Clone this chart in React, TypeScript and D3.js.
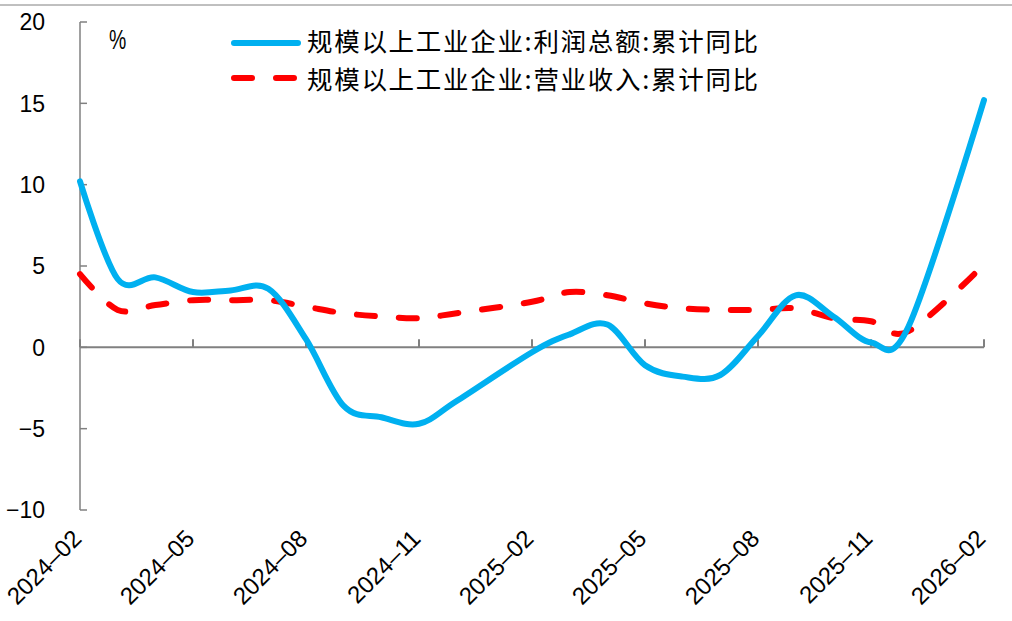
import React from "react";
import * as d3 from "d3";

const months = [
  "2024-02", "2024-03", "2024-04", "2024-05", "2024-06", "2024-07", "2024-08", "2024-09", "2024-10", "2024-11", "2024-12",
  "2025-02", "2025-03", "2025-04", "2025-05", "2025-06", "2025-07", "2025-08", "2025-09", "2025-10", "2025-11", "2025-12",
  "2026-02",
];
const profitYoY = [10.2, 4.2, 4.3, 3.4, 3.5, 3.6, 0.5, -3.6, -4.3, -4.7, -3.3, -0.3, 0.8, 1.4, -1.1, -1.8, -1.7, 0.7, 3.2, 1.9, 0.3, 1.3, 15.2];
const revenueYoY = [4.5, 2.3, 2.6, 2.9, 2.9, 2.9, 2.5, 2.1, 1.9, 1.8, 2.1, 2.8, 3.4, 3.2, 2.7, 2.4, 2.3, 2.3, 2.4, 1.8, 1.6, 1.0, 5.1];
const xTickLabels = ["2024-02", "2024-05", "2024-08", "2024-11", "2025-02", "2025-05", "2025-08", "2025-11", "2026-02"];
const yTicks = [-10, -5, 0, 5, 10, 15, 20];
const seriesNames = ["规模以上工业企业:利润总额:累计同比", "规模以上工业企业:营业收入:累计同比"];

const W = 1012;
const H = 621;
const numFont = "'Liberation Sans', Arial, sans-serif";
const cjkFont = "'Noto Sans CJK SC', 'Liberation Sans', sans-serif";

function monthIndex(s: string): number {
  const [y, m] = s.split("-").map(Number);
  return (y - 2024) * 12 + (m - 2);
}

export default function App() {
  const x = d3.scaleLinear().domain([0, 24]).range([80, 984]);
  const y = d3.scaleLinear().domain([-10, 20]).range([510, 22]);
  const line = d3
    .line<number>()
    .x((_, i) => x(monthIndex(months[i])))
    .y((d) => y(d))
    .curve(d3.curveCatmullRom.alpha(0));
  const grey = "#808080";
  const blue = "#00B0F0";
  const red = "#FF0000";
  const fmt = (v: number) => (v < 0 ? "\u2212" + Math.abs(v) : String(v));

  return (
    <svg width={W} height={H} style={{ display: "block", position: "absolute", left: 0, top: 0, background: "#fff" }}>
      <line x1={0} x2={W} y1={5} y2={5} stroke={grey} strokeWidth={1} />
      {/* y axis */}
      <line x1={80} x2={80} y1={y(20)} y2={y(-10)} stroke={grey} strokeWidth={1.5} />
      {yTicks.map((t) => (
        <g key={t}>
          <line x1={80} x2={87} y1={y(t)} y2={y(t)} stroke={grey} strokeWidth={1.5} />
          <text x={45} y={y(t)} dy="0.36em" textAnchor="end" fontFamily={numFont} fontSize={23} fill="#000">
            {fmt(t)}
          </text>
        </g>
      ))}
      {/* x axis at zero */}
      <line x1={80} x2={x(24)} y1={y(0)} y2={y(0)} stroke={grey} strokeWidth={2} />
      {xTickLabels.map((lab) => {
        const px = x(monthIndex(lab));
        return (
          <g key={lab}>
            <line x1={px} x2={px} y1={y(0)} y2={y(0) - 8} stroke={grey} strokeWidth={2} />
            <text
              transform={`translate(${px + 3},${540}) rotate(-45)`}
              textAnchor="end"
              fontFamily={numFont}
              fontSize={24}
              fill="#000"
            >
              {lab.replace("-", "\u2013")}
            </text>
          </g>
        );
      })}
      <text transform="translate(109,49) scale(0.72,1)" fontFamily={numFont} fontSize={27} fill="#000">%</text>
      {/* series */}
      <path d={line(revenueYoY) || ""} fill="none" stroke={red} strokeWidth={6} strokeDasharray="18,24" strokeLinecap="round" />
      <path d={line(profitYoY) || ""} fill="none" stroke={blue} strokeWidth={6} strokeLinecap="round" />
      {/* legend */}
      <line x1={234} x2={298} y1={43} y2={43} stroke={blue} strokeWidth={6} strokeLinecap="round" />
      <line x1={234} x2={298} y1={78} y2={78} stroke={red} strokeWidth={6} strokeDasharray="18,24" strokeLinecap="round" />
      <text x={307} y={42} dy="0.36em" fontFamily={cjkFont} fontSize={25.5} letterSpacing={1.7} fill="#000">{seriesNames[0]}</text>
      <text x={307} y={79.5} dy="0.36em" fontFamily={cjkFont} fontSize={25.5} letterSpacing={1.7} fill="#000">{seriesNames[1]}</text>
    </svg>
  );
}
